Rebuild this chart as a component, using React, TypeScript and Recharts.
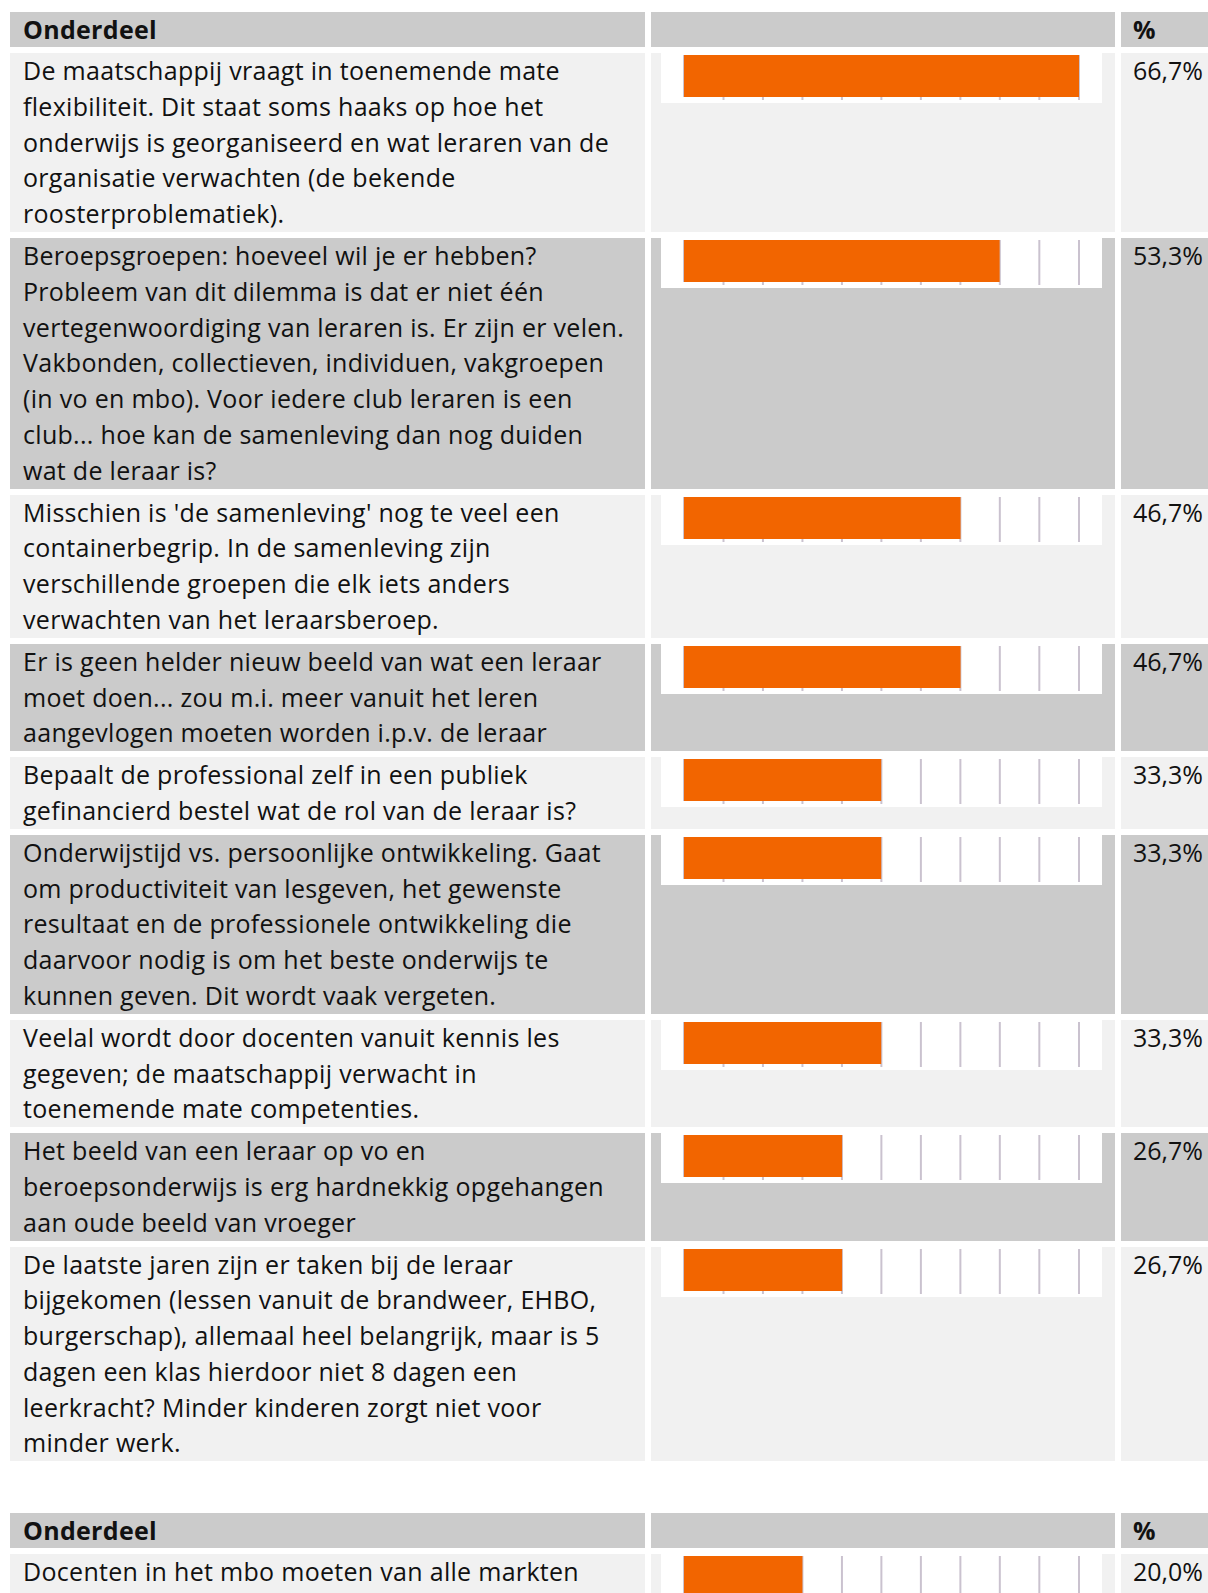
import { BarChart, Bar, XAxis, YAxis, CartesianGrid } from "recharts";

const statements: string[][] = [
  [
    "De maatschappij vraagt in toenemende mate",
    "flexibiliteit. Dit staat soms haaks op hoe het",
    "onderwijs is georganiseerd en wat leraren van de",
    "organisatie verwachten (de bekende",
    "roosterproblematiek).",
  ],
  [
    "Beroepsgroepen: hoeveel wil je er hebben?",
    "Probleem van dit dilemma is dat er niet één",
    "vertegenwoordiging van leraren is. Er zijn er velen.",
    "Vakbonden, collectieven, individuen, vakgroepen",
    "(in vo en mbo). Voor iedere club leraren is een",
    "club... hoe kan de samenleving dan nog duiden",
    "wat de leraar is?",
  ],
  [
    "Misschien is 'de samenleving' nog te veel een",
    "containerbegrip. In de samenleving zijn",
    "verschillende groepen die elk iets anders",
    "verwachten van het leraarsberoep.",
  ],
  [
    "Er is geen helder nieuw beeld van wat een leraar",
    "moet doen... zou m.i. meer vanuit het leren",
    "aangevlogen moeten worden i.p.v. de leraar",
  ],
  [
    "Bepaalt de professional zelf in een publiek",
    "gefinancierd bestel wat de rol van de leraar is?",
  ],
  [
    "Onderwijstijd vs. persoonlijke ontwikkeling. Gaat",
    "om productiviteit van lesgeven, het gewenste",
    "resultaat en de professionele ontwikkeling die",
    "daarvoor nodig is om het beste onderwijs te",
    "kunnen geven. Dit wordt vaak vergeten.",
  ],
  [
    "Veelal wordt door docenten vanuit kennis les",
    "gegeven; de maatschappij verwacht in",
    "toenemende mate competenties.",
  ],
  [
    "Het beeld van een leraar op vo en",
    "beroepsonderwijs is erg hardnekkig opgehangen",
    "aan oude beeld van vroeger",
  ],
  [
    "De laatste jaren zijn er taken bij de leraar",
    "bijgekomen (lessen vanuit de brandweer, EHBO,",
    "burgerschap), allemaal heel belangrijk, maar is 5",
    "dagen een klas hierdoor niet 8 dagen een",
    "leerkracht? Minder kinderen zorgt niet voor",
    "minder werk.",
  ],
];

const statements2: string[][] = [
  ["Docenten in het mbo moeten van alle markten", ""],
];

const percentages = [66.7, 53.3, 46.7, 46.7, 33.3, 33.3, 33.3, 26.7, 26.7];
const percentages2 = [20.0];

const gridTicks = [6.67, 13.33, 20, 26.67, 33.33, 40, 46.67, 53.33, 60, 66.7];
const axisMax = 66.7;

const headerLabels = ["Onderdeel", "", "%"];

const LINE = 35.8;
const LIGHT = "#f1f1f1";
const DARK = "#cbcbcb";
const ORANGE = "#f26500";
const GRID = "#cac2cf";

function fmt(v: number) {
  return v.toFixed(1).replace(".", ",") + "%";
}

function MiniBar({ value }: { value: number }) {
  return (
    <div style={{ marginLeft: 10, width: 441, height: 50, background: "#fff" }}>
      <BarChart
        width={441}
        height={50}
        layout="vertical"
        data={[{ name: "v", value }]}
        margin={{ top: 2, right: 23, bottom: 0, left: 23 }}
        barCategoryGap={0}
      >
        <CartesianGrid horizontal={false} stroke={GRID} strokeWidth={2} />
        <XAxis
          type="number"
          domain={[0, axisMax]}
          ticks={gridTicks}
          interval={0}
          tick={() => <g />}
          axisLine={false}
          tickLine={{ stroke: GRID, strokeWidth: 2 }}
          tickSize={3}
          height={6}
        />
        <YAxis type="category" dataKey="name" hide />
        <Bar dataKey="value" fill={ORANGE} isAnimationActive={false} />
      </BarChart>
    </div>
  );
}

function Table({ top, rows, values }: { top: number; rows: string[][]; values: number[] }) {
  const cell = (bg: string): React.CSSProperties => ({ background: bg });
  return (
    <div
      style={{
        position: "absolute",
        left: 10,
        top,
        display: "grid",
        gridTemplateColumns: "635px 464px 90px",
        columnGap: 6,
        rowGap: 6,
      }}
    >
      <div style={{ ...cell(DARK), height: 35, lineHeight: "35px", padding: "0 13px", fontWeight: 700 }}>
        {headerLabels[0]}
      </div>
      <div style={cell(DARK)} />
      <div style={{ ...cell(DARK), height: 35, lineHeight: "35px", paddingLeft: 12, fontWeight: 700 }}>
        {headerLabels[2]}
      </div>
      {rows.map((lines, i) => {
        const bg = i % 2 === 0 ? LIGHT : DARK;
        return [
          <div
            key={"t" + i}
            style={{ ...cell(bg), padding: "0 13px", lineHeight: LINE + "px", whiteSpace: "pre" }}
          >
            {lines.map((l, j) => (
              <div key={j} style={{ height: LINE }}>
                {l}
              </div>
            ))}
          </div>,
          <div key={"c" + i} style={cell(bg)}>
            <MiniBar value={values[i]} />
          </div>,
          <div key={"p" + i} style={{ ...cell(bg), paddingLeft: 12, lineHeight: LINE + "px", letterSpacing: 0 }}>
            {fmt(values[i])}
          </div>,
        ];
      })}
    </div>
  );
}

export default function App() {
  return (
    <div
      style={{
        position: "fixed",
        left: 0,
        top: 0,
        width: 1208,
        height: 1593,
        overflow: "hidden",
        background: "#fff",
        fontFamily: "'Open Sans', sans-serif",
        fontSize: 25,
        letterSpacing: 0.3,
        color: "#111",
      }}
    >
      <Table top={12} rows={statements} values={percentages} />
      <Table top={1513} rows={statements2} values={percentages2} />
    </div>
  );
}
